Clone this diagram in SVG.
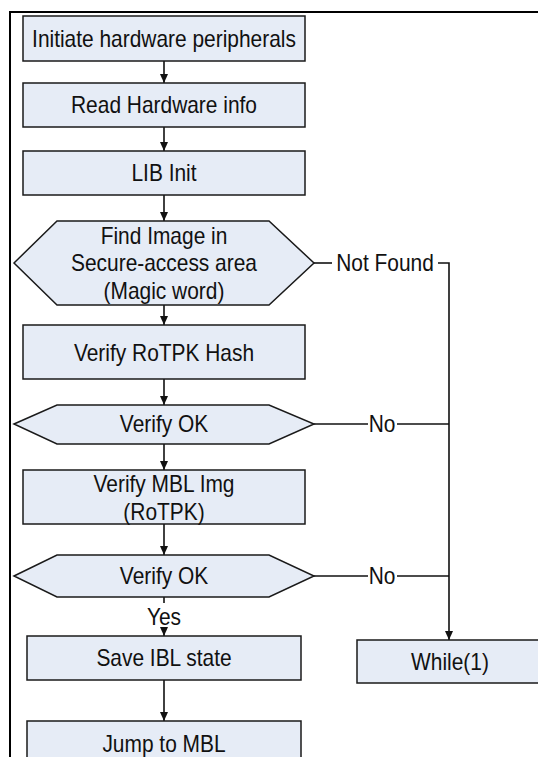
<svg xmlns="http://www.w3.org/2000/svg" width="538" height="757" viewBox="0 0 538 757">
  <defs>
    <marker id="arrow" markerUnits="userSpaceOnUse" markerWidth="10" markerHeight="8" refX="9" refY="4" orient="auto">
      <path d="M0,0 L9,4 L0,8 Z" fill="#111"/>
    </marker>
    <style>
      .box { fill: #e6ecf6; stroke: #1a1a1a; stroke-width: 1.5; }
      .lbl { font-family: "Liberation Sans", Arial, sans-serif; font-size: 23px; fill: #111; text-anchor: middle; }
      .edge { fill: none; stroke: #111; stroke-width: 1.6; }
      .arr { marker-end: url(#arrow); }
      .frame { fill: none; stroke: #000; stroke-width: 2; }
    </style>
  </defs>

  <rect x="0" y="0" width="538" height="757" fill="#fff"/>

  <!-- outer frame (top and left edges) -->
  <path class="frame" d="M538,12 H10 V757"/>

  <!-- connectors; labels use a slightly narrowed face -->
  <g id="connectors">
    <line class="edge arr" x1="164" y1="61" x2="164" y2="83"/>
    <line class="edge arr" x1="164" y1="127" x2="164" y2="151"/>
    <line class="edge arr" x1="164" y1="195" x2="164" y2="221"/>
    <line class="edge arr" x1="164" y1="305" x2="164" y2="325"/>
    <line class="edge arr" x1="164" y1="379" x2="164" y2="405"/>
    <line class="edge arr" x1="164" y1="444" x2="164" y2="470"/>
    <line class="edge arr" x1="164" y1="524" x2="164" y2="555"/>
    <line class="edge" x1="164" y1="597" x2="164" y2="603"/>
    <text class="lbl" transform="translate(164,625) scale(0.91,1)">Yes</text>
    <line class="edge arr" x1="164" y1="628" x2="164" y2="636"/>
    <line class="edge arr" x1="164" y1="680" x2="164" y2="721"/>

    <!-- Not Found branch -->
    <line class="edge" x1="314" y1="263" x2="332" y2="263"/>
    <text class="lbl" transform="translate(385,271) scale(0.91,1)">Not Found</text>
    <path class="edge arr" d="M438,263 H449 V640"/>

    <!-- No branches -->
    <line class="edge" x1="314" y1="424" x2="368" y2="424"/>
    <text class="lbl" transform="translate(382,432) scale(0.91,1)">No</text>
    <line class="edge" x1="397" y1="424" x2="449" y2="424"/>

    <line class="edge" x1="314" y1="576" x2="368" y2="576"/>
    <text class="lbl" transform="translate(382,584) scale(0.91,1)">No</text>
    <line class="edge" x1="397" y1="576" x2="449" y2="576"/>
  </g>

  <g id="init-hw">
    <rect class="box" x="23" y="16" width="282" height="45"/>
    <text class="lbl" transform="translate(164,46.5) scale(0.91,1)">Initiate hardware peripherals</text>
  </g>

  <g id="read-hw">
    <rect class="box" x="23" y="83" width="282" height="44"/>
    <text class="lbl" transform="translate(164,113) scale(0.91,1)">Read Hardware info</text>
  </g>

  <g id="lib-init">
    <rect class="box" x="23" y="151" width="282" height="44"/>
    <text class="lbl" transform="translate(164,181) scale(0.91,1)">LIB Init</text>
  </g>

  <g id="find-image">
    <polygon class="box" points="14,263 57,221 269,221 314,263 269,305 57,305"/>
    <text class="lbl" transform="translate(164,244) scale(0.91,1)">Find Image in</text>
    <text class="lbl" transform="translate(164,271) scale(0.91,1)">Secure-access area</text>
    <text class="lbl" transform="translate(164,298.5) scale(0.91,1)">(Magic word)</text>
  </g>

  <g id="verify-hash">
    <rect class="box" x="23" y="325" width="282" height="54"/>
    <text class="lbl" transform="translate(164,360.5) scale(0.91,1)">Verify RoTPK Hash</text>
  </g>

  <g id="verify-ok-1">
    <polygon class="box" points="14,424 57,405 269,405 314,424 269,444 57,444"/>
    <text class="lbl" transform="translate(164,432) scale(0.91,1)">Verify OK</text>
  </g>

  <g id="verify-mbl">
    <rect class="box" x="23" y="470" width="282" height="54"/>
    <text class="lbl" transform="translate(164,492) scale(0.91,1)">Verify MBL Img</text>
    <text class="lbl" transform="translate(164,519.5) scale(0.91,1)">(RoTPK)</text>
  </g>

  <g id="verify-ok-2">
    <polygon class="box" points="14,576 57,555 269,555 314,576 269,597 57,597"/>
    <text class="lbl" transform="translate(164,584) scale(0.91,1)">Verify OK</text>
  </g>

  <g id="save-state">
    <rect class="box" x="27" y="636" width="274" height="44"/>
    <text class="lbl" transform="translate(164,666) scale(0.91,1)">Save IBL state</text>
  </g>

  <g id="jump-mbl">
    <rect class="box" x="27" y="721" width="274" height="50"/>
    <text class="lbl" transform="translate(164,751.5) scale(0.91,1)">Jump to MBL</text>
  </g>

  <g id="while-loop">
    <rect class="box" x="357" y="640" width="190" height="43"/>
    <text class="lbl" transform="translate(450,669.5) scale(0.91,1)">While(1)</text>
  </g>
</svg>
